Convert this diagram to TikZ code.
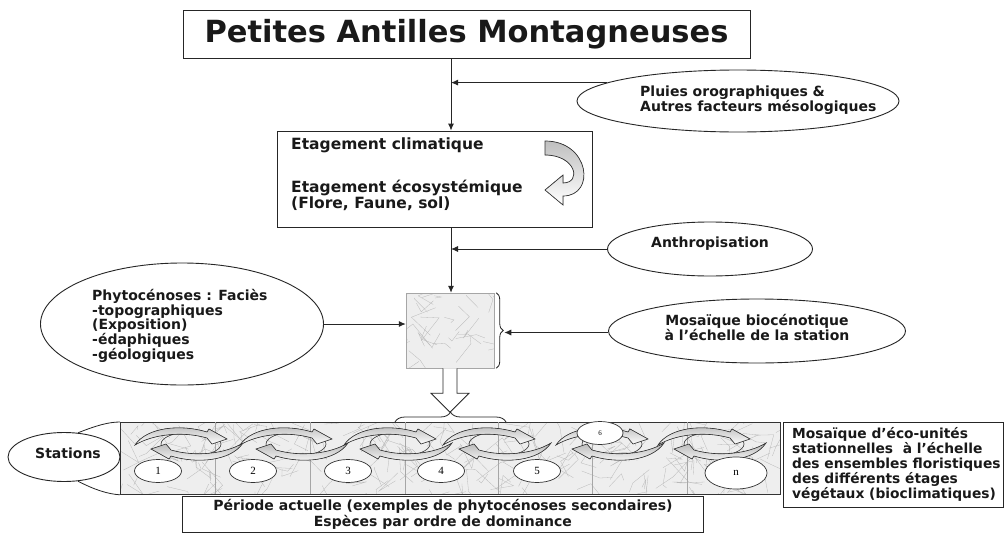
\documentclass[tikz,border=0pt]{standalone}
\usepackage{fontspec}
\setmainfont{DejaVu Sans}
\newfontfamily\numfont{Liberation Serif}
\usetikzlibrary{arrows.meta,decorations.pathreplacing,shapes.geometric,calc}
\tikzset{
  box/.style={draw=black!85, line width=0.9pt, fill=white},
  oval/.style={draw=black!85, ellipse, line width=0.9pt, fill=white, inner sep=0pt},
  conn/.style={line width=0.9pt, draw=black!85, -{Latex[length=7pt,width=6pt]}},
  txt/.style={font=\bfseries\fontsize{14}{15}\selectfont, text=black!90, inner sep=0pt},
  num/.style={draw=black!80, ellipse, line width=0.7pt, fill=white, inner sep=0pt, font=\numfont\fontsize{11}{12}\selectfont},
  net/.style={draw=gray!55, line width=0.3pt},
  swirl/.pic={
    \draw[line width=0.6pt, black!80] (2,0) ellipse [x radius=30, y radius=12];
    \foreach \r in {0,180}{
      \begin{scope}[rotate=\r]
        \filldraw[top color=gray!55, bottom color=white, draw=black!80, line width=0.6pt]
          (-54,1) .. controls (-42,-17) and (-8,-20) .. (18,-12)
          -- (20,-15) -- (38,-5) -- (23,0) -- (18,-6)
          .. controls (-6,-13) and (-36,-10) .. (-54,1) -- cycle;
      \end{scope}
    }
  }
}
\newcommand\mytexture[5]{%
  \begin{scope}
    \clip (#1,#2) rectangle (#3,#4);
    \fill[gray!13] (#1,#2) rectangle (#3,#4);
    \foreach \k in {1,...,#5}{
      \draw[net] ({#1+rnd*(#3-#1)},{#2+rnd*(#4-#2)}) -- ++({rnd*50-25},{rnd*50-25}) -- ++({rnd*40-20},{rnd*40-20});
    }
  \end{scope}}
\begin{document}
\begin{tikzpicture}[x=1pt,y=-1pt]
\pgfmathsetseed{11}
\useasboundingbox[fill=white] (0,0) rectangle (1007,533);
\coordinate (axis) at (451,0);

% title
\node[box, minimum width=567, minimum height=48, font=\bfseries\fontsize{30.5}{33}\selectfont, text=black!90] (title) at (466.5,34) {Petites Antilles Montagneuses};

% pluies
\node[oval, minimum width=322, minimum height=62] (pluies) at (738,101) {};
\node[txt, align=left, anchor=west] (pluiestxt) at (640,100) {Pluies orographiques \&\\Autres facteurs mésologiques};

% etagement box
\node[box, minimum width=315, minimum height=96] (etage) at (434.5,179) {};
\node[txt, anchor=west, font=\bfseries\fontsize{15.5}{17}\selectfont] (et1) at (291,145) {Etagement climatique};
\node[txt, anchor=west, align=left, font=\bfseries\fontsize{15.5}{16}\selectfont] (et2) at (291,195) {Etagement écosystémique\\(Flore, Faune, sol)};
% curved arrow
\filldraw[top color=gray!50, bottom color=white, draw=black!80, line width=0.7pt]
  (545,141) .. controls (590,141) and (596,196) .. (563,196)
  -- (563,205) -- (545,190) -- (563,175) -- (563,183)
  .. controls (582,183) and (576,155) .. (545,155) -- cycle;

\draw[conn] (title.south -| axis) -- (etage.north -| axis);
\draw[conn] (pluies.172) -- (pluies.172 -| axis);

% anthropisation
\node[oval, minimum width=205, minimum height=54] (anthro) at (710,249) {};
\node[txt] (anthrotxt) at (710,244) {Anthropisation};
\draw[conn] (anthro.west) -- (anthro.west -| axis);

% mosaic square
\mytexture{406}{293}{494}{368}{30}
\node[draw=gray!70, line width=0.5pt, minimum width=88, minimum height=75, inner sep=0] (mos) at (450,330.5) {};
\draw[conn] (etage.south -| axis) -- (mos.north -| axis);

% brace right of square
\draw[line width=0.8pt, black!85, decorate, decoration={brace, amplitude=7pt}] ($(mos.north east)+(2,0)$) -- ($(mos.south east)+(2,0)$);
\coordinate (btip) at ($(mos.east)+(10,2)$);

% biocenotique
\node[oval, minimum width=297, minimum height=64] (bio) at (757,331) {};
\node[txt, align=center] (biotxt) at (757,327) {Mosaïque biocénotique\\à l’échelle de la station};
\draw[conn] (bio.west |- btip) -- (btip);

% phytocenoses
\node[oval, minimum width=283, minimum height=122] (phyto) at (182,324) {};
\node[txt, align=left, anchor=north west, font=\bfseries\fontsize{14}{12.8}\selectfont] (phytotxt) at (92,289) {Phytocénoses : Faciès\\-topographiques\\(Exposition)\\-édaphiques\\-géologiques};
\draw[conn] (phyto.east) -- (phyto.east -| mos.west);

% hollow arrow
\draw[line width=0.8pt, black!85, fill=white]
  ($(mos.south)+(-7,0)$) -- ++(0,25) -- ++(-12,0) -- ($(mos.south)+(0,44)$)
  -- ($(mos.south)+(19,25)$) -- ++(-12,0) -- ($(mos.south)+(7,0)$);
% brace below
\draw[line width=0.8pt, black!85, decorate, decoration={brace, amplitude=10pt}] (395,422) -- (506,422);

% stations strip
\mytexture{120}{422}{780}{494}{220}
\node[draw=black!80, line width=0.8pt, minimum width=660, minimum height=72, inner sep=0, anchor=north west] (strip) at (120,422) {};
\foreach \xx in {215,310,405,498,592,687}{
  \draw[gray!70, line width=0.6pt] (\xx,422) -- (\xx,494);
}
\foreach \cx in {189,294,398,497,610,712}{
  \pic at (\cx,444) {swirl};
}
\node[num, minimum width=47, minimum height=23] (n1) at (158,471) {1};
\node[num, minimum width=47, minimum height=23] (n2) at (253,471) {2};
\node[num, minimum width=47, minimum height=23] (n3) at (348,471) {3};
\node[num, minimum width=47, minimum height=23] (n4) at (441,471) {4};
\node[num, minimum width=47, minimum height=23] (n5) at (537,471) {5};
\node[num, minimum width=46, minimum height=23, font=\numfont\fontsize{7}{8}\selectfont] (n6) at (600,433) {6};
\node[num, minimum width=62, minimum height=32] (nn) at (736,473) {n};

% stations
\node[oval, minimum width=112, minimum height=49] (stations) at (64,457) {};
\node[txt] (stationstxt) at (68,453) {Stations};
\draw[line width=0.8pt, black!85] (stations.60) .. controls (95,426) and (108,422) .. (strip.north west);
\draw[line width=0.8pt, black!85] (stations.-60) .. controls (95,490) and (108,494) .. (strip.south west);

% right box
\node[box, minimum width=220, minimum height=85, anchor=north west] (right) at (783,422) {};
\node[txt, align=left, anchor=north west, font=\bfseries\fontsize{13.8}{15}\selectfont] (righttxt) at (792,427) {Mosaïque d’éco-unités\\stationnelles~ à l’échelle\\des ensembles floristiques\\des différents étages\\végétaux (bioclimatiques)};

% period box
\node[box, minimum width=521, minimum height=36, anchor=north west] (period) at (182,496) {};
\node[txt, align=center, font=\bfseries\fontsize{14}{13.5}\selectfont] (periodtxt) at (period.center) {Période actuelle (exemples de phytocénoses secondaires)\\Espèces par ordre de dominance};
\end{tikzpicture}
\end{document}
